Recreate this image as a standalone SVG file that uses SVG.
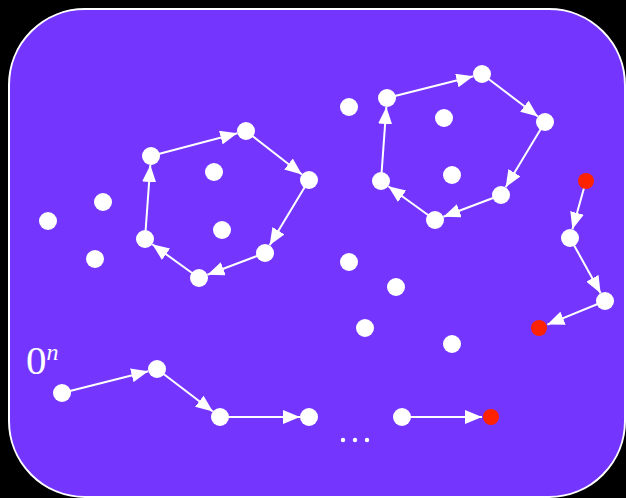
<svg xmlns="http://www.w3.org/2000/svg" width="626" height="498" viewBox="0 0 626 498">
<defs>
<marker id="ah" markerUnits="userSpaceOnUse" markerWidth="17" markerHeight="14" refX="17" refY="7" orient="auto">
<path d="M0,0 L17,7 L0,14 z" fill="#fff"/>
</marker>
<style>
.n{fill:#fff}
.r{fill:#ff2200}
.e{stroke:#fff;stroke-width:2;fill:none;marker-end:url(#ah)}
.t{font-family:"Liberation Serif",serif;fill:#fff}
</style>
</defs>
<rect x="0" y="0" width="626" height="498" fill="#000"/>
<rect x="9" y="9" width="616" height="488" rx="76" ry="76" fill="#7436ff" stroke="#fff" stroke-width="2"/>
<g id="connectors">
<line class="e" x1="145" y1="239" x2="150.35" y2="164.98"/>
<line class="e" x1="151" y1="156" x2="237.29" y2="133.29"/>
<line class="e" x1="246" y1="131" x2="301.9" y2="174.47"/>
<line class="e" x1="309" y1="180" x2="269.65" y2="245.29"/>
<line class="e" x1="265" y1="253" x2="207.42" y2="274.81"/>
<line class="e" x1="199" y1="278" x2="152.3" y2="244.27"/>
<line class="e" x1="381" y1="181" x2="386.35" y2="106.98"/>
<line class="e" x1="387" y1="98" x2="473.29" y2="76.29"/>
<line class="e" x1="482" y1="74" x2="537.9" y2="116.47"/>
<line class="e" x1="545" y1="122" x2="505.65" y2="187.29"/>
<line class="e" x1="501" y1="195" x2="443.42" y2="216.81"/>
<line class="e" x1="435" y1="220" x2="388.3" y2="186.27"/>
<line class="e" x1="586" y1="181" x2="572.43" y2="229.33"/>
<line class="e" x1="570" y1="238" x2="600.63" y2="293.14"/>
<line class="e" x1="605" y1="301" x2="547.33" y2="324.59"/>
<line class="e" x1="62" y1="393" x2="148.28" y2="371.2"/>
<line class="e" x1="157" y1="369" x2="212.84" y2="411.55"/>
<line class="e" x1="220" y1="417" x2="300" y2="417"/>
<line class="e" x1="402" y1="417" x2="482" y2="417"/>
</g>
<g id="n1"><circle class="n" cx="151" cy="156" r="9"/></g>
<g id="n2"><circle class="n" cx="246" cy="131" r="9"/></g>
<g id="n3"><circle class="n" cx="309" cy="180" r="9"/></g>
<g id="n4"><circle class="n" cx="265" cy="253" r="9"/></g>
<g id="n5"><circle class="n" cx="199" cy="278" r="9"/></g>
<g id="n6"><circle class="n" cx="145" cy="239" r="9"/></g>
<g id="n7"><circle class="n" cx="214" cy="172" r="9"/></g>
<g id="n8"><circle class="n" cx="222" cy="230" r="9"/></g>
<g id="n9"><circle class="n" cx="48" cy="221" r="9"/></g>
<g id="n10"><circle class="n" cx="103" cy="202" r="9"/></g>
<g id="n11"><circle class="n" cx="95" cy="259" r="9"/></g>
<g id="n12"><circle class="n" cx="387" cy="98" r="9"/></g>
<g id="n13"><circle class="n" cx="482" cy="74" r="9"/></g>
<g id="n14"><circle class="n" cx="545" cy="122" r="9"/></g>
<g id="n15"><circle class="n" cx="501" cy="195" r="9"/></g>
<g id="n16"><circle class="n" cx="435" cy="220" r="9"/></g>
<g id="n17"><circle class="n" cx="381" cy="181" r="9"/></g>
<g id="n18"><circle class="n" cx="444" cy="118" r="9"/></g>
<g id="n19"><circle class="n" cx="452" cy="175" r="9"/></g>
<g id="n20"><circle class="n" cx="349" cy="107" r="9"/></g>
<g id="n21"><circle class="n" cx="349" cy="262" r="9"/></g>
<g id="n22"><circle class="n" cx="396" cy="287" r="9"/></g>
<g id="n23"><circle class="n" cx="365" cy="328" r="9"/></g>
<g id="n24"><circle class="n" cx="452" cy="344" r="9"/></g>
<g id="n25"><circle class="r" cx="586" cy="181" r="8"/></g>
<g id="n26"><circle class="n" cx="570" cy="238" r="9"/></g>
<g id="n27"><circle class="n" cx="605" cy="301" r="9"/></g>
<g id="n28"><circle class="r" cx="539" cy="328" r="8"/></g>
<g id="n29"><circle class="n" cx="62" cy="393" r="9"/></g>
<g id="n30"><circle class="n" cx="157" cy="369" r="9"/></g>
<g id="n31"><circle class="n" cx="220" cy="417" r="9"/></g>
<g id="n32"><circle class="n" cx="309" cy="417" r="9"/></g>
<g id="n33"><circle class="n" cx="402" cy="417" r="9"/></g>
<g id="n34"><circle class="r" cx="491" cy="417" r="8"/></g>
<g id="dots"><circle class="n" cx="343" cy="440" r="2.2"/><circle class="n" cx="355" cy="440" r="2.2"/><circle class="n" cx="367" cy="440" r="2.2"/></g>
<g id="label"><text class="t" x="26" y="374" font-size="41">0<tspan font-size="24" font-style="italic" dy="-14">n</tspan></text></g>
</svg>
